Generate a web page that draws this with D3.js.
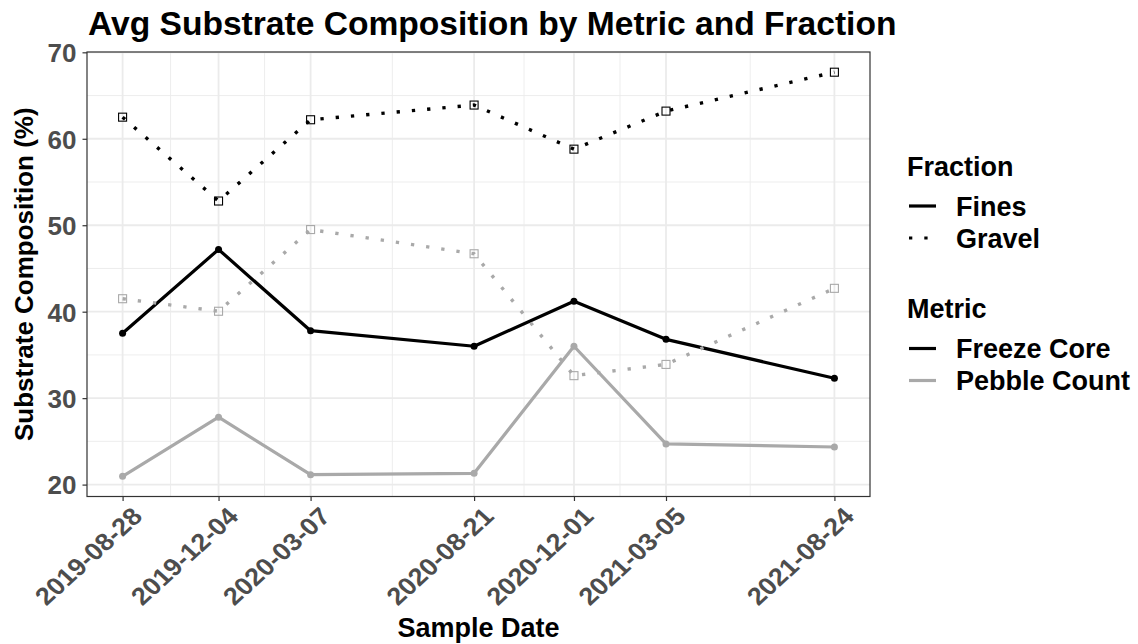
<!DOCTYPE html>
<html>
<head>
<meta charset="utf-8">
<script src="https://cdn.jsdelivr.net/npm/d3@7"></script>
<style>
  body { margin: 0; background: #fff; }
  text { font-family: "Liberation Sans", Arial, sans-serif; font-weight: bold; }
</style>
</head>
<body>
<div id="chart"></div>
<script>
// values
const sampleDates = ["2019-08-28", "2019-12-04", "2020-03-07", "2020-08-21", "2020-12-01", "2021-03-05", "2021-08-24"];
const freezeCoreFines = [37.5, 47.2, 37.8, 36.0, 41.2, 36.8, 32.3];
const freezeCoreGravel = [62.5, 52.8, 62.2, 63.9, 58.8, 63.2, 67.7];
const pebbleCountFines = [20.96, 27.8, 21.15, 21.3, 36.0, 24.7, 24.35];
const pebbleCountGravel = [41.5, 40.05, 49.5, 46.7, 32.6, 33.9, 42.7];
const yTicks = [20, 30, 40, 50, 60, 70];
const fractions = ["Fines", "Gravel"];
const metrics = ["Freeze Core", "Pebble Count"];

let width = 1138, height = 644;
let panel = {left: 87, right: 870, top: 52, bottom: 496.5};

let parseDate = d3.utcParse("%Y-%m-%d");
let dates = sampleDates.map(parseDate);

let metricColor = {"Freeze Core": "#000000", "Pebble Count": "#a9a9a9"};
let dotted = "3.3,12";

// series in the order ggplot draws them
let series = [
    {metric: "Freeze Core", fraction: "Fines", values: freezeCoreFines},
    {metric: "Freeze Core", fraction: "Gravel", values: freezeCoreGravel},
    {metric: "Pebble Count", fraction: "Fines", values: pebbleCountFines},
    {metric: "Pebble Count", fraction: "Gravel", values: pebbleCountGravel}
];

// 5% expansion like ggplot
let dExt = d3.extent(dates);
let dPad = (dExt[1] - dExt[0]) * 0.05;
let x = d3.scaleUtc()
    .domain([new Date(+dExt[0] - dPad), new Date(+dExt[1] + dPad)])
    .range([panel.left, panel.right]);

let allVals = [].concat(freezeCoreFines, freezeCoreGravel, pebbleCountFines, pebbleCountGravel);
let yExt = d3.extent(allVals);
let yPad = (yExt[1] - yExt[0]) * 0.05;
let y = d3.scaleLinear()
    .domain([yExt[0] - yPad, yExt[1] + yPad])
    .range([panel.bottom, panel.top]);

let svg = d3.select("#chart").append("svg")
    .attr("width", width)
    .attr("height", height);

svg.append("rect").attr("width", width).attr("height", height).attr("fill", "#fff");

// grid
let grid = svg.append("g");
let yMinor = d3.range(15, 75, 10).filter(v => y(v) < panel.bottom && y(v) > panel.top);
let xMinor = d3.pairs(dates).map(p => new Date((+p[0] + +p[1]) / 2));

grid.selectAll(".yminor").data(yMinor).enter().append("line")
    .attr("x1", panel.left).attr("x2", panel.right)
    .attr("y1", d => y(d)).attr("y2", d => y(d))
    .attr("stroke", "#ebebeb").attr("stroke-width", 0.9);
grid.selectAll(".xminor").data(xMinor).enter().append("line")
    .attr("x1", d => x(d)).attr("x2", d => x(d))
    .attr("y1", panel.top).attr("y2", panel.bottom)
    .attr("stroke", "#ebebeb").attr("stroke-width", 0.9);
grid.selectAll(".ymajor").data(yTicks).enter().append("line")
    .attr("x1", panel.left).attr("x2", panel.right)
    .attr("y1", d => y(d)).attr("y2", d => y(d))
    .attr("stroke", "#ebebeb").attr("stroke-width", 1.8);
grid.selectAll(".xmajor").data(dates).enter().append("line")
    .attr("x1", d => x(d)).attr("x2", d => x(d))
    .attr("y1", panel.top).attr("y2", panel.bottom)
    .attr("stroke", "#ebebeb").attr("stroke-width", 1.8);

// lines
let line = d3.line()
    .x((d, i) => x(dates[i]))
    .y(d => y(d));

series.forEach(function (s) {
    svg.append("path")
        .attr("d", line(s.values))
        .attr("fill", "none")
        .attr("stroke", metricColor[s.metric])
        .attr("stroke-width", s.fraction == "Fines" ? 3.2 : 3.4)
        .attr("stroke-dasharray", s.fraction == "Fines" ? null : dotted)
        .attr("stroke-linejoin", "round");
});

// points
series.forEach(function (s) {
    let g = svg.append("g");
    if (s.fraction == "Fines") {
        g.selectAll("circle").data(s.values).enter().append("circle")
            .attr("cx", (d, i) => x(dates[i]))
            .attr("cy", d => y(d))
            .attr("r", 3.5)
            .attr("fill", metricColor[s.metric]);
    } else {
        g.selectAll("rect").data(s.values).enter().append("rect")
            .attr("x", (d, i) => x(dates[i]) - 4)
            .attr("y", d => y(d) - 4)
            .attr("width", 8).attr("height", 8)
            .attr("fill", "none")
            .attr("stroke", metricColor[s.metric])
            .attr("stroke-width", 1.1);
    }
});

// panel border
svg.append("rect")
    .attr("x", panel.left).attr("y", panel.top)
    .attr("width", panel.right - panel.left)
    .attr("height", panel.bottom - panel.top)
    .attr("fill", "none").attr("stroke", "#333333").attr("stroke-width", 1.2);

// y axis
let yAxis = svg.append("g")
    .attr("transform", "translate(" + panel.left + ",0)")
    .call(d3.axisLeft(y).tickValues(yTicks).tickSize(4.5).tickPadding(6).tickFormat(d3.format("d")));
yAxis.select(".domain").remove();
yAxis.selectAll(".tick line").attr("stroke", "#333333").attr("stroke-width", 1.2);
yAxis.selectAll(".tick text")
    .attr("fill", "#4d4d4d")
    .style("font-size", "26px")
    .attr("dy", "0.36em");

// x axis (labels a bit wider than tall, like the picture)
let xAxis = svg.append("g")
    .attr("transform", "translate(0," + panel.bottom + ")")
    .call(d3.axisBottom(x).tickValues(dates).tickSize(4.5).tickFormat(d3.utcFormat("%Y-%m-%d")));
xAxis.select(".domain").remove();
xAxis.selectAll(".tick line").attr("stroke", "#333333").attr("stroke-width", 1.2);
xAxis.selectAll(".tick text")
    .attr("fill", "#4d4d4d")
    .style("font-size", "24.5px")
    .attr("text-anchor", "end")
    .attr("x", 0).attr("y", 0)
    .attr("dy", "0.72em")
    .attr("transform", "translate(7,9) scale(1.1,1) rotate(-45)");

// titles
svg.append("text")
    .attr("x", panel.left + 1).attr("y", 35)
    .style("font-size", "33.6px")
    .attr("fill", "#000")
    .text("Avg Substrate Composition by Metric and Fraction");

svg.append("text")
    .attr("transform", "translate(33," + ((panel.top + panel.bottom) / 2) + ") rotate(-90)")
    .attr("text-anchor", "middle")
    .style("font-size", "26px")
    .text("Substrate Composition (%)");

svg.append("text")
    .attr("x", (panel.left + panel.right) / 2).attr("y", 637)
    .attr("text-anchor", "middle")
    .style("font-size", "27px")
    .text("Sample Date");

// legend
let legend = svg.append("g").attr("transform", "translate(907,0)");

legend.append("text").attr("x", 0).attr("y", 176).style("font-size", "27px").text("Fraction");
fractions.forEach(function (f, i) {
    let ky = 206 + i * 32;
    legend.append("line")
        .attr("x1", 2).attr("x2", 29)
        .attr("y1", ky).attr("y2", ky)
        .attr("stroke", "#000").attr("stroke-width", 3.2)
        .attr("stroke-dasharray", f == "Fines" ? null : dotted);
    legend.append("text").attr("x", 49).attr("y", ky + 9.5).style("font-size", "27px").text(f);
});

legend.append("text").attr("x", 0).attr("y", 318).style("font-size", "27px").text("Metric");
metrics.forEach(function (m, i) {
    let ky = 348.5 + i * 32;
    legend.append("line")
        .attr("x1", 2).attr("x2", 29)
        .attr("y1", ky).attr("y2", ky)
        .attr("stroke", metricColor[m]).attr("stroke-width", 3.2);
    legend.append("text").attr("x", 49).attr("y", ky + 9.5).style("font-size", "27px").text(m);
});
</script>
</body>
</html>
